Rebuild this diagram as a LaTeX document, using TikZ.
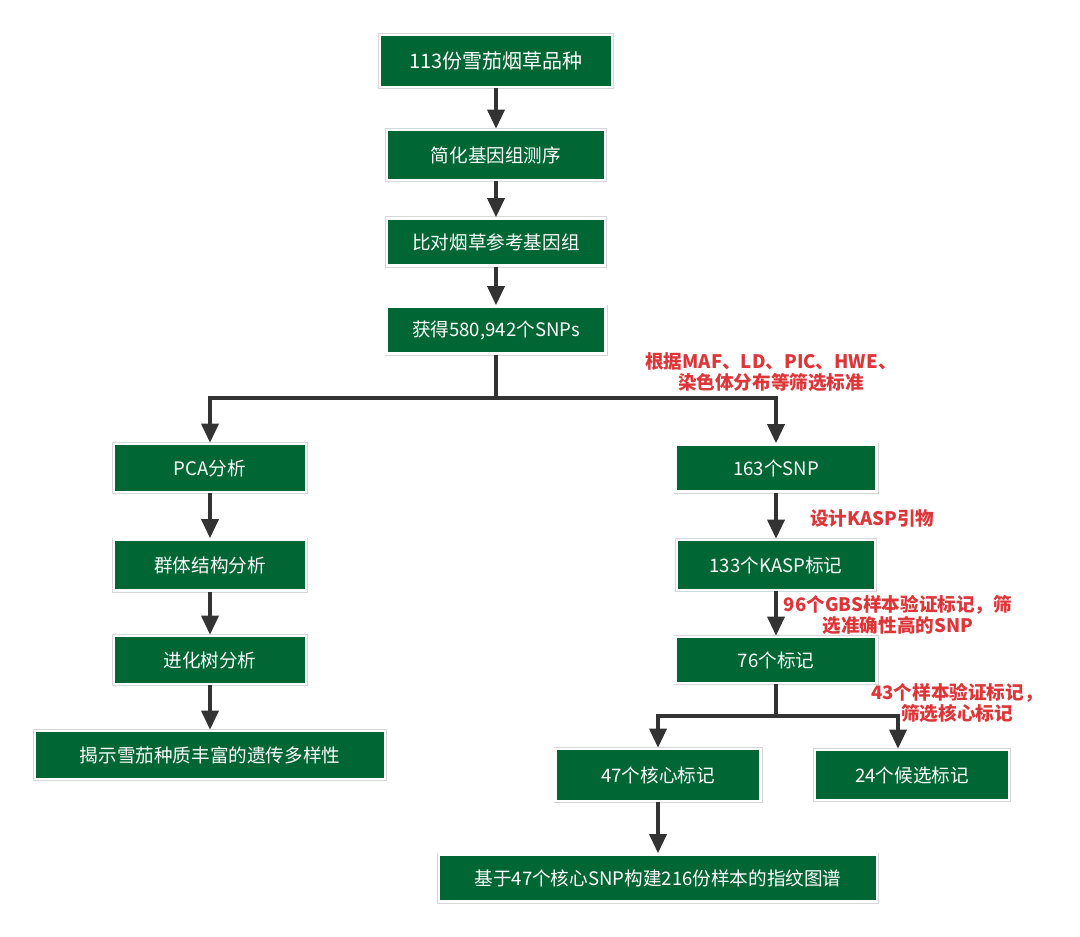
\documentclass[tikz,border=0pt]{standalone}
\usepackage{fontspec}
\usepackage{xcolor}
\usepackage{tikz}
\usetikzlibrary{arrows.meta,calc}
\newfontfamily\cjk{Noto Sans CJK SC}
\definecolor{boxgreen}{HTML}{006633}
\definecolor{boxedge}{HTML}{D6D6D6}
\definecolor{line}{HTML}{333333}
\definecolor{note}{HTML}{DD3538}
\tikzset{
  stepbox/.style={rectangle, fill=boxgreen, draw=white, line width=1.3pt,
    preaction={draw=boxedge, line width=2pt}, text=white,
    font=\cjk\fontsize{9.3}{11}\selectfont, inner sep=0pt},
  arr/.style={-{Triangle[width=8.5pt,length=9.5pt]}, line width=1.7pt, draw=line},
  link/.style={line width=1.7pt, draw=line},
  notetext/.style={text=note, font=\cjk\bfseries\fontsize{9.3}{10.6}\selectfont, align=center}
}
\newcommand{\BoxAt}[5]{% name,x,y,width,height
  \node[stepbox, minimum width=#4*0.5pt, minimum height=#5*0.5pt] (#1) at (#2,#3)
}

\begin{document}
\begin{tikzpicture}[x=0.5pt, y=-0.5pt]
  \useasboundingbox (0,0) rectangle (1080,936);
  % main trunk
  \BoxAt{cigar}{496}{61}{232}{52}{\fontsize{10}{12}\selectfont 113份雪茄烟草品种};
  \BoxAt{gbs}{496}{155}{218}{50}{简化基因组测序};
  \BoxAt{align}{496}{242}{218}{47}{比对烟草参考基因组};
  \BoxAt{snps}{496}{330}{219}{47}{获得580,942个SNPs};
  % left branch
  \BoxAt{pca}{210}{468}{192}{48}{PCA分析};
  \BoxAt{struct}{210}{565}{192}{51}{群体结构分析};
  \BoxAt{tree}{210}{660}{192}{48}{进化树分析};
  \BoxAt{diversity}{210}{755}{350}{48}{揭示雪茄种质丰富的遗传多样性};
  % right branch
  \BoxAt{snp163}{776}{468}{201}{47}{163个SNP};
  \BoxAt{kasp}{776}{565}{198}{50}{133个KASP标记};
  \BoxAt{mark76}{776}{660}{201}{46}{76个标记};
  \BoxAt{core}{658}{775}{205}{52}{47个核心标记};
  \BoxAt{cand}{912}{775}{194}{50}{24个候选标记};
  \BoxAt{print}{658}{878}{438}{47}{基于47个核心SNP构建216份样本的指纹图谱};

  \coordinate (split1) at (496,398);
  \coordinate (split2) at (776,716);

  \draw[arr] (cigar) -- (gbs);
  \draw[arr] (gbs) -- (align);
  \draw[arr] (align) -- (snps);
  \draw[link] (snps) -- (split1);
  \draw[arr] (split1) -| (pca);
  \draw[arr] (split1) -| (snp163);
  \draw[arr] (pca) -- (struct);
  \draw[arr] (struct) -- (tree);
  \draw[arr] (tree) -- (diversity);
  \draw[arr] (snp163) -- (kasp);
  \draw[arr] (kasp) -- (mark76);
  \draw[link] (mark76) -- (split2);
  \draw[arr] (split2) -| (core);
  \draw[arr] (split2) -| ([xshift=-7pt]cand.north);
  \draw[arr] (core) -- (print);

  % filter notes
  \node[notetext] (note1) at (771,372) {根据MAF、LD、PIC、HWE、\\染色体分布等筛选标准};
  \node[notetext, anchor=west] (note2) at (803,518) {设计KASP引物};
  \node[notetext] (note3) at (898,615) {96个GBS样本验证标记，筛\\选准确性高的SNP};
  \node[notetext] (note4) at (957,703) {43个样本验证标记，\\筛选核心标记};
\end{tikzpicture}
\end{document}
